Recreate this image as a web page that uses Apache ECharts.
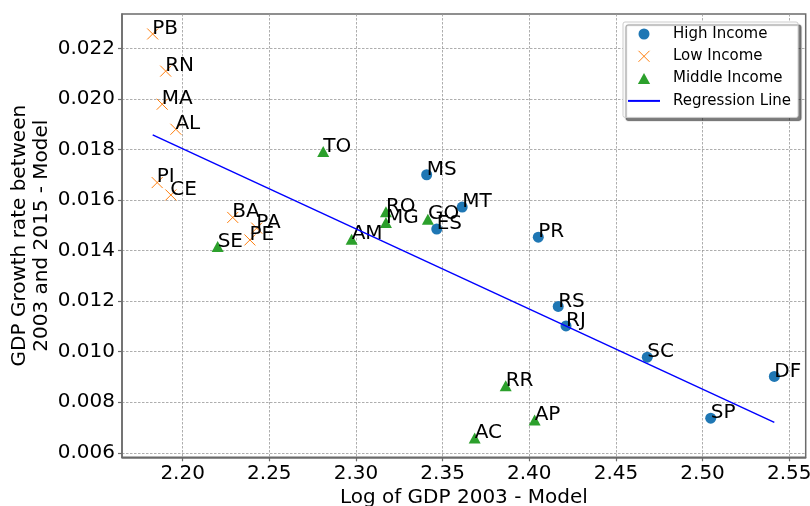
<!DOCTYPE html>
<html>
<head>
<meta charset="utf-8">
<script src="https://cdn.jsdelivr.net/npm/echarts@6/dist/echarts.min.js"></script>
<style>
  html, body { margin: 0; padding: 0; background: #fff; }
  #main { width: 810px; height: 506px; }
</style>
</head>
<body>
<div id="main"></div>
<script>
const highNames = ["MS", "MT", "ES", "PR", "RS", "RJ", "SC", "DF", "SP"];
const highX = [2.3408, 2.3613, 2.3466, 2.4052, 2.4167, 2.4212, 2.4681, 2.5414, 2.5047];
const highY = [0.01700, 0.01572, 0.01485, 0.01453, 0.01179, 0.01102, 0.00978, 0.00902, 0.00737];

const lowNames = ["PB", "RN", "MA", "AL", "PI", "CE", "BA", "PA", "PE"];
const lowX = [2.1827, 2.1902, 2.1882, 2.1961, 2.1853, 2.1932, 2.2289, 2.2427, 2.2388];
const lowY = [0.02257, 0.02110, 0.01979, 0.01880, 0.01669, 0.01620, 0.01531, 0.01489, 0.01442];

const midNames = ["SE", "TO", "RO", "MG", "GO", "AM", "RR", "AP", "AC"];
const midX = [2.2202, 2.2811, 2.3173, 2.3173, 2.3415, 2.2975, 2.3864, 2.4031, 2.3685];
const midY = [0.01416, 0.01792, 0.01554, 0.01511, 0.01524, 0.01445, 0.00865, 0.00730, 0.00658];

const regX = [2.1827, 2.5414];
const regY = [0.01858, 0.00720];

const xTicks = [2.20, 2.25, 2.30, 2.35, 2.40, 2.45, 2.50, 2.55];
const yTicks = [0.006, 0.008, 0.010, 0.012, 0.014, 0.016, 0.018, 0.020, 0.022];

const font = "DejaVu Sans";
const axisColor = "#6b6b6b";
const markSize = 11;

function points(names, xs, ys) {
    return names.map((n, i) => ({ name: n, value: [xs[i], ys[i]] }));
}

const pointLabel = {
    show: true,
    formatter: "{b}",
    position: [markSize / 2, markSize / 2 - 5],
    align: "left",
    verticalAlign: "middle",
    fontFamily: font,
    fontSize: 20,
    color: "#000"
};

const chart = echarts.init(document.getElementById("main"));

const option = {
    animation: false,
    textStyle: { fontFamily: font },
    grid: {
        left: 122,
        right: 4.3,
        top: 14,
        bottom: 48.7,
        outerBoundsMode: "none",
        containLabel: false,
        show: true,
        borderColor: axisColor,
        borderWidth: 1.5,
        backgroundColor: "#fff"
    },
    legend: {
        orient: "vertical",
        left: 623,
        top: 22,
        selectedMode: false,
        itemWidth: 32,
        itemHeight: 11,
        itemGap: 5.3,
        padding: [3.5, 7, 8, 4],
        backgroundColor: "#fff",
        borderColor: "#cccccc",
        borderWidth: 1,
        borderRadius: 2,
        shadowColor: "rgba(0,0,0,0.5)",
        shadowBlur: 1,
        shadowOffsetX: 3,
        shadowOffsetY: 3,
        textStyle: {
            fontFamily: font,
            fontSize: 15,
            lineHeight: 17,
            color: "#000",
            padding: [0, 0, 0, 8]
        },
        data: [
            "High Income",
            { name: "Low Income", itemStyle: { borderWidth: 1 } },
            "Middle Income",
            {
                name: "Regression Line",
                itemStyle: { color: "rgba(0,0,0,0)", borderColor: "rgba(0,0,0,0)", borderWidth: 0, opacity: 0 }
            }
        ]
    },
    xAxis: {
        type: "value",
        min: 2.165,
        max: 2.5595,
        name: "Log of GDP 2003 - Model",
        nameLocation: "middle",
        nameGap: 30,
        nameMoveOverlap: false,
        nameTextStyle: { fontFamily: font, fontSize: 20, color: "#000" },
        axisLine: { show: true, onZero: false, lineStyle: { color: axisColor, width: 1.5 } },
        axisTick: { show: true, length: 4, customValues: xTicks, lineStyle: { color: axisColor, width: 1.2 } },
        axisLabel: {
            customValues: xTicks,
            formatter: (v) => v.toFixed(2),
            fontFamily: font,
            fontSize: 20,
            color: "#000",
            margin: 6.5
        },
        splitLine: {
            show: true,
            lineStyle: { color: "#999", width: 0.8, type: [2.5, 1.5] }
        }
    },
    yAxis: {
        type: "value",
        min: 0.00582,
        max: 0.02336,
        name: "GDP Growth rate between\n2003 and 2015 - Model",
        nameLocation: "middle",
        nameRotate: 90,
        nameGap: 69.5,
        nameMoveOverlap: false,
        nameTextStyle: { fontFamily: font, fontSize: 20, lineHeight: 22, color: "#000", align: "center" },
        axisLine: { show: true, onZero: false, lineStyle: { color: axisColor, width: 1.5 } },
        axisTick: { show: true, length: 4, customValues: yTicks, lineStyle: { color: axisColor, width: 1.2 } },
        axisLabel: {
            customValues: yTicks,
            formatter: (v) => v.toFixed(3),
            fontFamily: font,
            fontSize: 20,
            color: "#000",
            margin: 7
        },
        splitLine: {
            show: true,
            lineStyle: { color: "#999", width: 0.8, type: [2.5, 1.5] }
        }
    },
    series: [
        {
            name: "High Income",
            type: "scatter",
            symbol: "circle",
            symbolSize: markSize,
            itemStyle: { color: "#1f77b4", opacity: 1 },
            label: pointLabel,
            data: points(highNames, highX, highY),
            z: 3
        },
        {
            name: "Low Income",
            type: "scatter",
            symbol: "path://M0,0 L10,10 M10,0 L0,10",
            symbolSize: markSize,
            itemStyle: { color: "#ff7f0e", borderColor: "#ff7f0e", borderWidth: 1, opacity: 1 },
            label: pointLabel,
            data: points(lowNames, lowX, lowY),
            z: 3
        },
        {
            name: "Middle Income",
            type: "scatter",
            symbol: "path://M5,0 L10,9 L0,9 Z",
            symbolSize: [12, 11],
            itemStyle: { color: "#2ca02c", opacity: 1 },
            label: Object.assign({}, pointLabel, { position: [6, 5.5 - 5] }),
            data: points(midNames, midX, midY),
            z: 3
        },
        {
            name: "Regression Line",
            type: "line",
            symbol: "none",
            lineStyle: { color: "#0000ff", width: 1.5 },
            itemStyle: { color: "#0000ff" },
            data: regX.map((x, i) => [x, regY[i]]),
            z: 4
        }
    ]
};

chart.setOption(option);
</script>
</body>
</html>
